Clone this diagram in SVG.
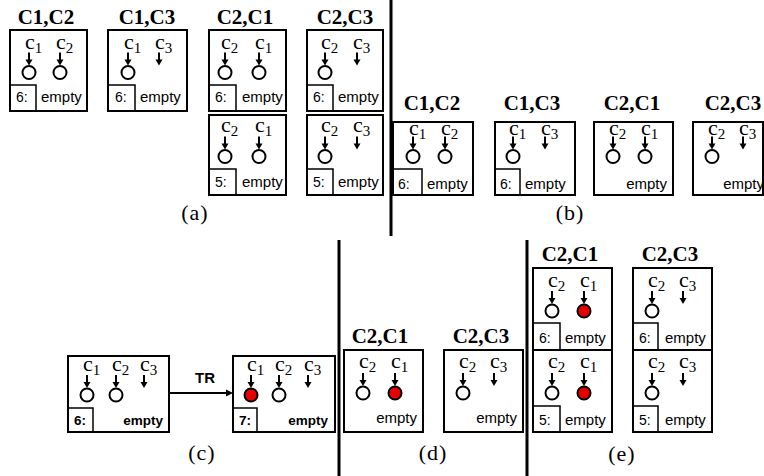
<svg xmlns="http://www.w3.org/2000/svg" xmlns:xlink="http://www.w3.org/1999/xlink" width="764" height="476" viewBox="0 0 764 476">
<style>
.box{fill:#fff;stroke:#000;stroke-width:2}
.sb{fill:none;stroke:#000;stroke-width:1.5}
.ttl{font-family:"Liberation Serif",serif;font-weight:bold;font-size:21px;text-anchor:middle}
.c{font-family:"Liberation Serif",serif;font-size:22px}
.sub{font-size:15px}
.num{font-family:"Liberation Sans",sans-serif;font-size:14px}
.emp{font-family:"Liberation Sans",sans-serif;font-size:15px}
.bd{font-weight:bold;font-size:13.5px}
.end{text-anchor:end}
.cap{font-family:"Liberation Serif",serif;font-size:22px;text-anchor:middle;letter-spacing:1px}
.dv{stroke:#000;stroke-width:3}
</style>
<defs>
<g id="ar"><line x1="0" y1="-20" x2="0" y2="-12" stroke="#000" stroke-width="2"/><path d="M-3.5,-13 H3.5 L0,-7 Z" fill="#000"/></g>
<g id="oc"><use href="#ar"/><circle r="6.5" fill="#fff" stroke="#000" stroke-width="2"/></g>
<g id="rc"><use href="#ar"/><circle r="6.5" fill="#e60000" stroke="#000" stroke-width="2"/></g>
</defs>

<g id="dividers">
<line class="dv" x1="391" y1="0" x2="391" y2="236"/>
<line class="dv" x1="339" y1="240" x2="339" y2="476"/>
<line class="dv" x1="527" y1="240" x2="527" y2="476"/>
</g>

<!-- (a) -->
<g id="a1">
<text class="ttl" x="46" y="24">C1,C2</text>
<rect class="box" x="10" y="30" width="77" height="81"/>
<text class="c" x="25" y="48.5">c<tspan class="sub" dy="4">1</tspan></text>
<text class="c" x="56" y="48.5">c<tspan class="sub" dy="4">2</tspan></text>
<use href="#oc" x="29" y="72.5"/><use href="#oc" x="60" y="72.5"/>
<rect class="sb" x="10" y="85" width="26" height="26"/>
<text class="num" x="16" y="102">6:</text><text class="emp" x="41" y="102">empty</text>
</g>
<g id="a2">
<text class="ttl" x="147" y="24">C1,C3</text>
<rect class="box" x="108" y="30" width="79" height="81"/>
<text class="c" x="124" y="48.5">c<tspan class="sub" dy="4">1</tspan></text>
<text class="c" x="155" y="48.5">c<tspan class="sub" dy="4">3</tspan></text>
<use href="#oc" x="128" y="72.5"/><use href="#ar" x="159" y="72.5"/>
<rect class="sb" x="108" y="85" width="27" height="26"/>
<text class="num" x="115" y="102">6:</text><text class="emp" x="140" y="102">empty</text>
</g>
<g id="a3">
<text class="ttl" x="245" y="24">C2,C1</text>
<rect class="box" x="209" y="30" width="77" height="81"/>
<text class="c" x="221" y="48.5">c<tspan class="sub" dy="4">2</tspan></text>
<text class="c" x="255" y="48.5">c<tspan class="sub" dy="4">1</tspan></text>
<use href="#oc" x="225" y="72.5"/><use href="#oc" x="259" y="72.5"/>
<rect class="sb" x="209" y="85" width="27" height="26"/>
<text class="num" x="215" y="102">6:</text><text class="emp" x="242" y="102">empty</text>
</g>
<g id="a3b">
<rect class="box" x="209" y="115" width="77" height="80"/>
<text class="c" x="221" y="131.5">c<tspan class="sub" dy="4">2</tspan></text>
<text class="c" x="255" y="131.5">c<tspan class="sub" dy="4">1</tspan></text>
<use href="#oc" x="225" y="156.5"/><use href="#oc" x="259" y="156.5"/>
<rect class="sb" x="209" y="169" width="27" height="26"/>
<text class="num" x="215" y="187">5:</text><text class="emp" x="242" y="187">empty</text>
</g>
<g id="a4">
<text class="ttl" x="345" y="24">C2,C3</text>
<rect class="box" x="307" y="30" width="76" height="81"/>
<text class="c" x="321" y="48.5">c<tspan class="sub" dy="4">2</tspan></text>
<text class="c" x="353" y="48.5">c<tspan class="sub" dy="4">3</tspan></text>
<use href="#oc" x="325" y="72.5"/><use href="#ar" x="357" y="72.5"/>
<rect class="sb" x="307" y="85" width="26" height="26"/>
<text class="num" x="313" y="102">6:</text><text class="emp" x="338" y="102">empty</text>
</g>
<g id="a4b">
<rect class="box" x="307" y="115" width="76" height="80"/>
<text class="c" x="321" y="131.5">c<tspan class="sub" dy="4">2</tspan></text>
<text class="c" x="353" y="131.5">c<tspan class="sub" dy="4">3</tspan></text>
<use href="#oc" x="325" y="156.5"/><use href="#ar" x="357" y="156.5"/>
<rect class="sb" x="307" y="169" width="26" height="26"/>
<text class="num" x="313" y="187">5:</text><text class="emp" x="338" y="187">empty</text>
</g>
<text class="cap" x="195" y="220">(a)</text>

<!-- (b) -->
<g id="b1">
<text class="ttl" x="432" y="110">C1,C2</text>
<rect class="box" x="393" y="122" width="80" height="73"/>
<text class="c" x="409" y="134.5">c<tspan class="sub" dy="4">1</tspan></text>
<text class="c" x="441" y="134.5">c<tspan class="sub" dy="4">2</tspan></text>
<use href="#oc" x="413" y="156.5"/><use href="#oc" x="445" y="156.5"/>
<rect class="sb" x="393" y="169" width="29" height="26"/>
<text class="num" x="398" y="189">6:</text><text class="emp" x="427" y="189">empty</text>
</g>
<g id="b2">
<text class="ttl" x="532" y="110">C1,C3</text>
<rect class="box" x="495" y="122" width="80" height="73"/>
<text class="c" x="509" y="134.5">c<tspan class="sub" dy="4">1</tspan></text>
<text class="c" x="541" y="134.5">c<tspan class="sub" dy="4">3</tspan></text>
<use href="#oc" x="513" y="156.5"/><use href="#ar" x="545" y="156.5"/>
<rect class="sb" x="495" y="169" width="25" height="26"/>
<text class="num" x="500" y="189">6:</text><text class="emp" x="525" y="189">empty</text>
</g>
<g id="b3">
<text class="ttl" x="632" y="110">C2,C1</text>
<rect class="box" x="594" y="122" width="79" height="73"/>
<text class="c" x="609" y="134.5">c<tspan class="sub" dy="4">2</tspan></text>
<text class="c" x="641" y="134.5">c<tspan class="sub" dy="4">1</tspan></text>
<use href="#oc" x="613" y="156.5"/><use href="#oc" x="645" y="156.5"/>
<text class="emp end" x="667" y="189">empty</text>
</g>
<g id="b4">
<text class="ttl" x="733" y="110">C2,C3</text>
<rect class="box" x="693" y="122" width="70" height="73"/>
<text class="c" x="708" y="134.5">c<tspan class="sub" dy="4">2</tspan></text>
<text class="c" x="739" y="134.5">c<tspan class="sub" dy="4">3</tspan></text>
<use href="#oc" x="712" y="156.5"/><use href="#ar" x="743" y="156.5"/>
<text class="emp end" x="764" y="189">empty</text>
</g>
<text class="cap" x="570" y="220">(b)</text>

<!-- (c) -->
<g id="c1">
<rect class="box" x="68" y="356" width="101" height="76"/>
<text class="c" x="83" y="371">c<tspan class="sub" dy="4">1</tspan></text>
<text class="c" x="112" y="371">c<tspan class="sub" dy="4">2</tspan></text>
<text class="c" x="140" y="371">c<tspan class="sub" dy="4">3</tspan></text>
<use href="#oc" x="87" y="395"/><use href="#oc" x="116" y="395"/><use href="#ar" x="144" y="395"/>
<rect class="sb" x="68" y="408" width="25" height="24"/>
<text class="num bd" x="74" y="425">6:</text><text class="num bd end" x="163" y="425">empty</text>
</g>
<g id="connectors">
<line x1="169" y1="393" x2="228" y2="393" stroke="#000" stroke-width="2"/>
<path d="M233,393 L226,389.5 L226,396.5 Z" fill="#000"/>
<text x="205" y="383" font-family="Liberation Sans, sans-serif" font-size="15" font-weight="bold" text-anchor="middle">TR</text>
</g>
<g id="c2">
<rect class="box" x="233" y="356" width="102" height="76"/>
<text class="c" x="247" y="371">c<tspan class="sub" dy="4">1</tspan></text>
<text class="c" x="275" y="371">c<tspan class="sub" dy="4">2</tspan></text>
<text class="c" x="304" y="371">c<tspan class="sub" dy="4">3</tspan></text>
<use href="#rc" x="251" y="395"/><use href="#oc" x="279" y="395"/><use href="#ar" x="308" y="395"/>
<rect class="sb" x="233" y="408" width="24" height="24"/>
<text class="num bd" x="239" y="425">7:</text><text class="num bd end" x="328" y="425">empty</text>
</g>
<text class="cap" x="202" y="460">(c)</text>

<!-- (d) -->
<g id="d1">
<text class="ttl" x="380" y="343">C2,C1</text>
<rect class="box" x="344" y="350" width="79" height="82"/>
<text class="c" x="359" y="368">c<tspan class="sub" dy="4">2</tspan></text>
<text class="c" x="391" y="368">c<tspan class="sub" dy="4">1</tspan></text>
<use href="#oc" x="363" y="393"/><use href="#rc" x="395" y="393"/>
<text class="emp end" x="417" y="423">empty</text>
</g>
<g id="d2">
<text class="ttl" x="481" y="343">C2,C3</text>
<rect class="box" x="444" y="350" width="79" height="82"/>
<text class="c" x="459" y="368">c<tspan class="sub" dy="4">2</tspan></text>
<text class="c" x="490" y="368">c<tspan class="sub" dy="4">3</tspan></text>
<use href="#oc" x="463" y="393"/><use href="#ar" x="494" y="393"/>
<text class="emp end" x="517" y="423">empty</text>
</g>
<text class="cap" x="433" y="460">(d)</text>

<!-- (e) -->
<g id="e1">
<text class="ttl" x="570" y="261">C2,C1</text>
<rect class="box" x="533" y="268" width="79" height="82"/>
<text class="c" x="548" y="286.5">c<tspan class="sub" dy="4">2</tspan></text>
<text class="c" x="580" y="286.5">c<tspan class="sub" dy="4">1</tspan></text>
<use href="#oc" x="552" y="311"/><use href="#rc" x="584" y="311"/>
<rect class="sb" x="533" y="323" width="27" height="27"/>
<text class="num" x="539" y="343">6:</text><text class="emp" x="565" y="343">empty</text>
</g>
<g id="e1b">
<rect class="box" x="533" y="350" width="79" height="82"/>
<text class="c" x="548" y="368">c<tspan class="sub" dy="4">2</tspan></text>
<text class="c" x="580" y="368">c<tspan class="sub" dy="4">1</tspan></text>
<use href="#oc" x="552" y="393"/><use href="#rc" x="584" y="393"/>
<rect class="sb" x="533" y="406" width="27" height="26"/>
<text class="num" x="539" y="425">5:</text><text class="emp" x="565" y="425">empty</text>
</g>
<g id="e2">
<text class="ttl" x="670" y="261">C2,C3</text>
<rect class="box" x="633" y="268" width="79" height="82"/>
<text class="c" x="648" y="286.5">c<tspan class="sub" dy="4">2</tspan></text>
<text class="c" x="679" y="286.5">c<tspan class="sub" dy="4">3</tspan></text>
<use href="#oc" x="652" y="311"/><use href="#ar" x="683" y="311"/>
<rect class="sb" x="633" y="323" width="25" height="27"/>
<text class="num" x="639" y="343">6:</text><text class="emp" x="665" y="343">empty</text>
</g>
<g id="e2b">
<rect class="box" x="633" y="350" width="79" height="82"/>
<text class="c" x="648" y="368">c<tspan class="sub" dy="4">2</tspan></text>
<text class="c" x="679" y="368">c<tspan class="sub" dy="4">3</tspan></text>
<use href="#oc" x="652" y="393"/><use href="#ar" x="683" y="393"/>
<rect class="sb" x="633" y="406" width="25" height="26"/>
<text class="num" x="639" y="425">5:</text><text class="emp" x="665" y="425">empty</text>
</g>
<text class="cap" x="622" y="461">(e)</text>
</svg>
